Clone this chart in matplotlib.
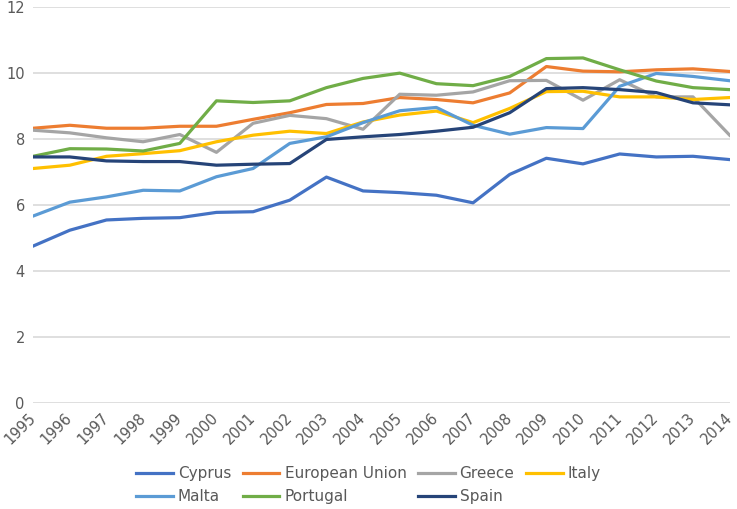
import matplotlib
matplotlib.use('Agg')
import matplotlib.pyplot as plt

years = list(range(1995, 2015))

cyprus = [4.76, 5.24, 5.55, 5.60, 5.62, 5.78, 5.80, 6.15, 6.85, 6.43,
          6.38, 6.30, 6.07, 6.93, 7.42, 7.25, 7.55, 7.46, 7.48, 7.38]
eu = [8.33, 8.42, 8.33, 8.33, 8.39, 8.39, 8.60, 8.80, 9.05, 9.08,
      9.26, 9.20, 9.10, 9.40, 10.20, 10.06, 10.04, 10.10, 10.13, 10.05]
greece = [8.27, 8.19, 8.04, 7.92, 8.14, 7.60, 8.48, 8.72, 8.62, 8.30,
          9.36, 9.33, 9.43, 9.77, 9.78, 9.18, 9.80, 9.28, 9.28, 8.12]
italy = [7.11, 7.21, 7.48, 7.56, 7.65, 7.92, 8.12, 8.24, 8.17, 8.52,
         8.73, 8.85, 8.50, 8.93, 9.44, 9.45, 9.28, 9.28, 9.20, 9.26]
malta = [5.67, 6.09, 6.25, 6.45, 6.43, 6.86, 7.11, 7.87, 8.07, 8.50,
         8.86, 8.96, 8.42, 8.15, 8.35, 8.32, 9.60, 9.99, 9.90, 9.77]
portugal = [7.48, 7.71, 7.70, 7.64, 7.87, 9.16, 9.11, 9.16, 9.56, 9.84,
            10.00, 9.68, 9.62, 9.90, 10.44, 10.46, 10.10, 9.76, 9.56, 9.50]
spain = [7.46, 7.46, 7.34, 7.32, 7.32, 7.21, 7.24, 7.26, 7.99, 8.07,
         8.14, 8.24, 8.36, 8.80, 9.53, 9.56, 9.50, 9.41, 9.10, 9.04]

series = [
    ('Cyprus', cyprus, '#4472C4'),
    ('European Union', eu, '#ED7D31'),
    ('Greece', greece, '#A5A5A5'),
    ('Italy', italy, '#FFC000'),
    ('Malta', malta, '#5B9BD5'),
    ('Portugal', portugal, '#70AD47'),
    ('Spain', spain, '#264478'),
]

fig = plt.figure(figsize=(7.37, 5.09), dpi=100)
ax = fig.add_axes([0.045, 0.208, 0.945, 0.778])

lines = {}
for name, vals, col in series:
    lines[name], = ax.plot(years, vals, color=col, linewidth=2.3, label=name)

ax.set_xlim(1995, 2014)
ax.set_ylim(0, 12)
ax.set_yticks(range(0, 13, 2))
ax.set_xticks(years)
ax.set_xticklabels([str(y) for y in years], rotation=45, ha='right',
                   va='center', rotation_mode='anchor')
ax.tick_params(length=0, labelsize=10.5, labelcolor='#595959')
ax.tick_params(axis='x', pad=9)
ax.tick_params(axis='y', pad=6)
ax.grid(axis='y', color='#D9D9D9', linewidth=1.2)
ax.set_axisbelow(True)
for s in ax.spines.values():
    s.set_visible(False)

# excel fills legend row by row, matplotlib column by column
order = ['Cyprus', 'Malta', 'European Union', 'Portugal', 'Greece', 'Spain', 'Italy']
leg = fig.legend([lines[n] for n in order], order, loc='center',
                 bbox_to_anchor=(0.5, 0.047), ncol=4, frameon=False,
                 fontsize=11, handlelength=2.4, columnspacing=0.75,
                 handletextpad=0.33, labelspacing=0.55)
for t in leg.get_texts():
    t.set_color('#595959')

fig.savefig('out.png', dpi=100)
